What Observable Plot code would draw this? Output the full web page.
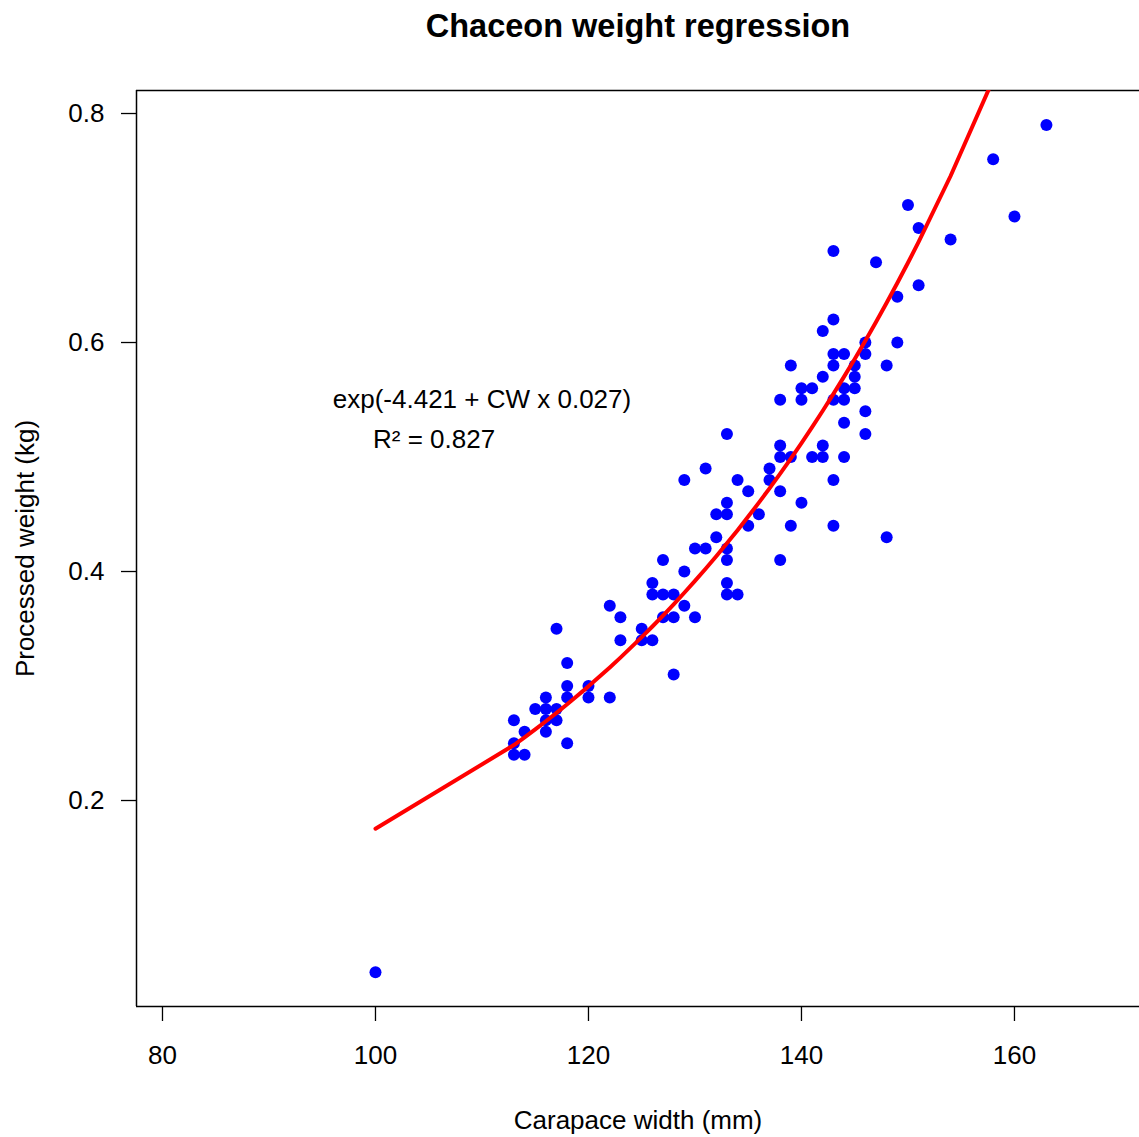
<!DOCTYPE html>
<html>
<head>
<meta charset="utf-8">
<script src="https://cdn.jsdelivr.net/npm/d3@7"></script>
<script src="https://cdn.jsdelivr.net/npm/@observablehq/plot@0.6"></script>
<style>
  html, body { margin: 0; padding: 0; background: #ffffff; overflow: hidden; }
  #chart svg { display: block; }
</style>
</head>
<body>
<div id="chart"></div>
<script>
// Carapace width (mm) of each crab, grouped by width
const carapaceWidth = [
  100,
  113, 113, 113,
  114, 114,
  115,
  116, 116, 116, 116,
  117, 117, 117,
  118, 118, 118, 118,
  120, 120,
  122, 122,
  123, 123,
  125, 125,
  126, 126, 126,
  127, 127, 127,
  128, 128, 128,
  129, 129, 129,
  130, 130,
  131, 131,
  132, 132,
  133, 133, 133, 133, 133, 133, 133,
  134, 134,
  135, 135,
  136,
  137, 137,
  138, 138, 138, 138, 138,
  139, 139, 139,
  140, 140, 140,
  141, 141,
  142, 142, 142, 142,
  143, 143, 143, 143, 143, 143, 143,
  144, 144, 144, 144, 144,
  145, 145, 145,
  146, 146, 146, 146,
  147,
  148, 148,
  149, 149,
  150,
  151, 151,
  154,
  158,
  160,
  163
];

// Processed weight (kg), in the same order
const processedWeight = [
  0.05,
  0.27, 0.25, 0.24,
  0.26, 0.24,
  0.28,
  0.29, 0.28, 0.27, 0.26,
  0.35, 0.28, 0.27,
  0.32, 0.30, 0.29, 0.25,
  0.30, 0.29,
  0.37, 0.29,
  0.36, 0.34,
  0.35, 0.34,
  0.39, 0.38, 0.34,
  0.41, 0.38, 0.36,
  0.38, 0.36, 0.31,
  0.48, 0.40, 0.37,
  0.42, 0.36,
  0.49, 0.42,
  0.45, 0.43,
  0.52, 0.46, 0.45, 0.42, 0.41, 0.39, 0.38,
  0.48, 0.38,
  0.47, 0.44,
  0.45,
  0.49, 0.48,
  0.55, 0.51, 0.50, 0.47, 0.41,
  0.58, 0.50, 0.44,
  0.56, 0.55, 0.46,
  0.56, 0.50,
  0.61, 0.57, 0.51, 0.50,
  0.68, 0.62, 0.59, 0.58, 0.55, 0.48, 0.44,
  0.59, 0.56, 0.55, 0.53, 0.50,
  0.58, 0.57, 0.56,
  0.60, 0.59, 0.54, 0.52,
  0.67,
  0.58, 0.43,
  0.64, 0.60,
  0.72,
  0.70, 0.65,
  0.69,
  0.76,
  0.71,
  0.79
];

// Fitted log-linear model: weight = exp(a + b * CW)
const intercept = -4.421;
const slope = 0.0268;
const rSquared = 0.827;

// Axis ticks and limits
const xTicks = [80, 100, 120, 140, 160];
const yTicks = [0.2, 0.4, 0.6, 0.8];
const xLimits = [77.56, 171.74];
const yLimits = [0.0201, 0.8201];

const titleText = "Chaceon weight regression";
const xLabel = "Carapace width (mm)";
const yLabel = "Processed weight (kg)";

const crabs = carapaceWidth.map((w, i) => ({cw: w, kg: processedWeight[i]}));

// Fitted curve evaluated at the observed widths, in order
const fitted = Array.from(new Set(carapaceWidth))
  .sort((a, b) => a - b)
  .map(w => ({cw: w, kg: Math.exp(intercept + w * slope)}));

const equation = `exp(${intercept.toFixed(3)} + CW x ${slope.toFixed(3)})`;
const r2Text = `R\u00B2 = ${rSquared.toFixed(3)}`;

const font = "'Liberation Sans', Arial, Helvetica, sans-serif";

const chart = Plot.plot({
  width: 1139,
  height: 1137,
  marginLeft: 136,
  marginRight: 0,
  marginTop: 90,
  marginBottom: 131,
  style: {fontFamily: font, fontSize: "26px", color: "#000", background: "#fff"},
  x: {domain: xLimits},
  y: {domain: yLimits},
  marks: [
    // plot box (its right side falls past the page edge)
    Plot.ruleY(yLimits, {stroke: "#000", strokeWidth: 1.5}),
    Plot.ruleX([xLimits[0]], {stroke: "#000", strokeWidth: 1.5}),
    Plot.axisX({
      ticks: xTicks,
      tickSize: 15,
      tickPadding: 24,
      tickFormat: d => String(d),
      strokeWidth: 1.3,
      fontSize: 26,
      label: null
    }),
    Plot.axisY({
      ticks: yTicks,
      tickSize: 15,
      tickPadding: 17,
      tickFormat: d => d.toFixed(1),
      strokeWidth: 1.3,
      fontSize: 26,
      label: null
    }),
    Plot.dot(crabs, {x: "cw", y: "kg", r: 6, fill: "#0000ff", stroke: "none"}),
    Plot.line(fitted, {x: "cw", y: "kg", stroke: "#ff0000", strokeWidth: 4, clip: true}),
    Plot.text([equation], {x: 110, y: 0.55, text: d => d, fontSize: 26, textAnchor: "middle", fill: "#000"}),
    Plot.text([r2Text], {x: 105.5, y: 0.515, text: d => d, fontSize: 26, textAnchor: "middle", fill: "#000"}),
    Plot.text([titleText], {frameAnchor: "top", dy: -64, lineAnchor: "middle", text: d => d, fontSize: 32.5, fontWeight: "bold", fill: "#000"}),
    Plot.text([xLabel], {frameAnchor: "bottom", dy: 114, lineAnchor: "middle", text: d => d, fontSize: 26, fill: "#000"}),
    Plot.text([yLabel], {frameAnchor: "left", dx: -111, rotate: -90, textAnchor: "middle", lineAnchor: "middle", text: d => d, fontSize: 26, fill: "#000"})
  ]
});

document.getElementById("chart").appendChild(chart);
</script>
</body>
</html>
